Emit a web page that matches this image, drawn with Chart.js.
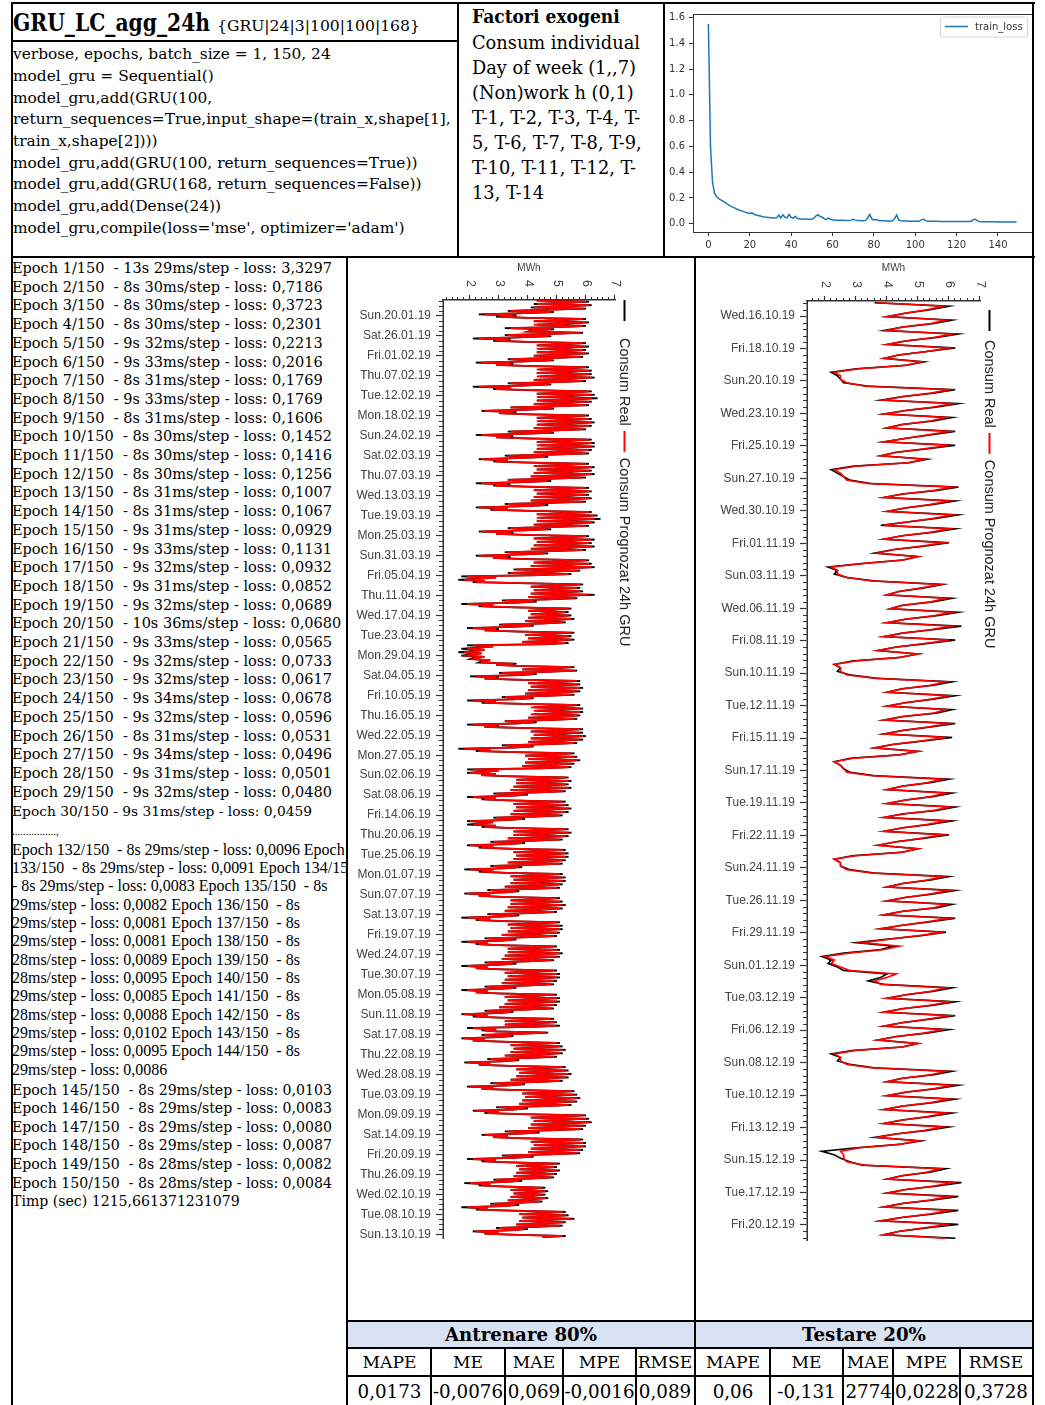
<!DOCTYPE html>
<html lang="ro">
<head>
<meta charset="utf-8">
<title>GRU_LC_agg_24h</title>
<script src="https://cdn.jsdelivr.net/npm/chart.js@4.4.1/dist/chart.umd.min.js"></script>
<style>
  html, body { margin: 0; padding: 0; background: #fff; }
  #page { position: relative; width: 1045px; height: 1405px; overflow: hidden; background: #fff; }
  .rule { position: absolute; background: #000; z-index: 5; }
  .blk { position: absolute; color: #000; font-family: "DejaVu Serif", serif; z-index: 2; white-space: normal; }
  .blk > div, .one { white-space: pre; }
  .one { position: absolute; color: #000; font-family: "DejaVu Serif", serif; z-index: 2; }
  .b { font-weight: bold; }
  .times { font-family: "Liberation Serif", "Times New Roman", serif; }
  .cell { position: absolute; display: flex; align-items: center; justify-content: center; overflow: hidden; white-space: pre; font-family: "DejaVu Serif", serif; color: #000; z-index: 2; }
  .rot { position: absolute; transform-origin: 0 0; z-index: 1; }
  #epochs { position: absolute; left: 12px; top: 258px; width: 334px; height: 1147px; overflow: hidden; z-index: 2; }
</style>
</head>
<body>
<div id="page">

  <!-- header: model name and code -->
  <div class="one b" style="left:13px;top:9px;line-height:30px;transform-origin:0 22px;transform:scaleY(1.18);" data-w="197">GRU_LC_agg_24h</div>
  <div class="one" style="left:217px;top:10.5px;line-height:30px;" data-w="203">{GRU|24|3|100|100|168}</div>

  <div class="blk" style="left:13px;top:44.2px;line-height:21.67px;" data-w="438" data-ref="3">
    <div>verbose, epochs, batch_size = 1, 150, 24</div>
    <div>model_gru = Sequential()</div>
    <div>model_gru,add(GRU(100,</div>
    <div>return_sequences=True,input_shape=(train_x,shape[1],</div>
    <div>train_x,shape[2])))</div>
    <div>model_gru,add(GRU(100, return_sequences=True))</div>
    <div>model_gru,add(GRU(168, return_sequences=False))</div>
    <div>model_gru,add(Dense(24))</div>
    <div>model_gru,compile(loss='mse', optimizer='adam')</div>
  </div>

  <div class="one b" style="left:472px;top:4.5px;line-height:25.1px;transform-origin:0 18px;transform:scaleY(1.12);" data-w="148">Factori exogeni</div>
  <div class="blk" style="left:472px;top:29.6px;line-height:25.1px;" data-w="168" data-ref="0">
    <div>Consum individual</div>
    <div>Day of week (1,,7)</div>
    <div>(Non)work h (0,1)</div>
    <div>T-1, T-2, T-3, T-4, T-</div>
    <div>5, T-6, T-7, T-8, T-9,</div>
    <div>T-10, T-11, T-12, T-</div>
    <div>13, T-14</div>
  </div>

  <div style="position:absolute;left:665px;top:4px;width:367px;height:252px;z-index:1;">
    <canvas id="lossChart" width="367" height="252"></canvas>
  </div>

  <!-- training log -->
  <div id="epochs">
    <div class="blk" style="left:0;top:1px;line-height:18.7px;" data-w="320" data-ref="0">
      <div>Epoch 1/150  - 13s 29ms/step - loss: 3,3297</div>
      <div>Epoch 2/150  - 8s 30ms/step - loss: 0,7186</div>
      <div>Epoch 3/150  - 8s 30ms/step - loss: 0,3723</div>
      <div>Epoch 4/150  - 8s 30ms/step - loss: 0,2301</div>
      <div>Epoch 5/150  - 9s 32ms/step - loss: 0,2213</div>
      <div>Epoch 6/150  - 9s 33ms/step - loss: 0,2016</div>
      <div>Epoch 7/150  - 8s 31ms/step - loss: 0,1769</div>
      <div>Epoch 8/150  - 9s 33ms/step - loss: 0,1769</div>
      <div>Epoch 9/150  - 8s 31ms/step - loss: 0,1606</div>
      <div>Epoch 10/150  - 8s 30ms/step - loss: 0,1452</div>
      <div>Epoch 11/150  - 8s 30ms/step - loss: 0,1416</div>
      <div>Epoch 12/150  - 8s 30ms/step - loss: 0,1256</div>
      <div>Epoch 13/150  - 8s 31ms/step - loss: 0,1007</div>
      <div>Epoch 14/150  - 8s 31ms/step - loss: 0,1067</div>
      <div>Epoch 15/150  - 9s 31ms/step - loss: 0,0929</div>
      <div>Epoch 16/150  - 9s 33ms/step - loss: 0,1131</div>
      <div>Epoch 17/150  - 9s 32ms/step - loss: 0,0932</div>
      <div>Epoch 18/150  - 9s 31ms/step - loss: 0,0852</div>
      <div>Epoch 19/150  - 9s 32ms/step - loss: 0,0689</div>
      <div>Epoch 20/150  - 10s 36ms/step - loss: 0,0680</div>
      <div>Epoch 21/150  - 9s 33ms/step - loss: 0,0565</div>
      <div>Epoch 22/150  - 9s 32ms/step - loss: 0,0733</div>
      <div>Epoch 23/150  - 9s 32ms/step - loss: 0,0617</div>
      <div>Epoch 24/150  - 9s 34ms/step - loss: 0,0678</div>
      <div>Epoch 25/150  - 9s 32ms/step - loss: 0,0596</div>
      <div>Epoch 26/150  - 8s 31ms/step - loss: 0,0531</div>
      <div>Epoch 27/150  - 9s 34ms/step - loss: 0,0496</div>
      <div>Epoch 28/150  - 9s 31ms/step - loss: 0,0501</div>
      <div>Epoch 29/150  - 9s 32ms/step - loss: 0,0480</div>
    </div>
    <div class="one" style="left:0;top:544px;line-height:18.7px;" data-w="300">Epoch 30/150 - 9s 31ms/step - loss: 0,0459</div>
    <div class="one times" style="left:0;top:566px;line-height:14px;font-size:11px;">................,</div>
    <div class="blk times" style="left:0;top:582.8px;line-height:18.33px;" data-w="333" data-ref="0">
      <div>Epoch 132/150  - 8s 29ms/step - loss: 0,0096 Epoch</div>
      <div>133/150  - 8s 29ms/step - loss: 0,0091 Epoch 134/150</div>
      <div>- 8s 29ms/step - loss: 0,0083 Epoch 135/150  - 8s</div>
      <div>29ms/step - loss: 0,0082 Epoch 136/150  - 8s</div>
      <div>29ms/step - loss: 0,0081 Epoch 137/150  - 8s</div>
      <div>29ms/step - loss: 0,0081 Epoch 138/150  - 8s</div>
      <div>28ms/step - loss: 0,0089 Epoch 139/150  - 8s</div>
      <div>28ms/step - loss: 0,0095 Epoch 140/150  - 8s</div>
      <div>29ms/step - loss: 0,0085 Epoch 141/150  - 8s</div>
      <div>28ms/step - loss: 0,0088 Epoch 142/150  - 8s</div>
      <div>29ms/step - loss: 0,0102 Epoch 143/150  - 8s</div>
      <div>29ms/step - loss: 0,0095 Epoch 144/150  - 8s</div>
      <div>29ms/step - loss: 0,0086</div>
    </div>
    <div class="blk" style="left:0;top:822.7px;line-height:18.6px;" data-w="320" data-ref="0">
      <div>Epoch 145/150  - 8s 29ms/step - loss: 0,0103</div>
      <div>Epoch 146/150  - 8s 29ms/step - loss: 0,0083</div>
      <div>Epoch 147/150  - 8s 29ms/step - loss: 0,0080</div>
      <div>Epoch 148/150  - 8s 29ms/step - loss: 0,0087</div>
      <div>Epoch 149/150  - 8s 28ms/step - loss: 0,0082</div>
      <div>Epoch 150/150  - 8s 28ms/step - loss: 0,0084</div>
      <div>Timp (sec) 1215,661371231079</div>
    </div>
  </div>

  <!-- rotated consumption charts -->
  <div class="rot" style="left:347px;top:257px;width:1063px;height:348px;transform:translate(348px,0) rotate(90deg);">
    <canvas id="trainChart" width="1063" height="348"></canvas>
  </div>
  <div class="rot" style="left:695px;top:257px;width:1063px;height:338px;transform:translate(338px,0) rotate(90deg);">
    <canvas id="testChart" width="1063" height="338"></canvas>
  </div>

  <!-- error metrics -->
  <div style="position:absolute;left:348px;top:1322px;width:685px;height:25px;background:#d9e2f3;z-index:1;"></div>
  <div class="cell b" style="left:348px;top:1321px;width:346px;height:27px;" data-w="152">Antrenare 80%</div>
  <div class="cell b" style="left:696px;top:1321px;width:336px;height:27px;" data-w="124">Testare 20%</div>
  <div id="metrics"></div>

  <!-- table rules -->
  <div class="rule" style="left:11px;top:2px;width:1024px;height:2px;"></div>
  <div class="rule" style="left:11px;top:2px;width:2px;height:1403px;"></div>
  <div class="rule" style="left:1032px;top:2px;width:2px;height:1403px;"></div>
  <div class="rule" style="left:11px;top:39.5px;width:448px;height:2px;"></div>
  <div class="rule" style="left:457px;top:2px;width:2px;height:255px;"></div>
  <div class="rule" style="left:663px;top:2px;width:2px;height:255px;"></div>
  <div class="rule" style="left:11px;top:256px;width:1024px;height:2px;"></div>
  <div class="rule" style="left:346px;top:256px;width:2px;height:1149px;"></div>
  <div class="rule" style="left:694px;top:256px;width:2px;height:1149px;"></div>
  <div class="rule" style="left:346px;top:1320px;width:688px;height:2px;"></div>
  <div class="rule" style="left:346px;top:1347px;width:688px;height:2px;"></div>
  <div class="rule" style="left:346px;top:1375px;width:688px;height:1.5px;"></div>
</div>

<script>
// ---------------- training loss per epoch (history curve) ----------------
const lossEpochs = Array.from({length: 150}, (_, i) => i);
const lossValues = [
  1.55, 0.60, 0.32, 0.235, 0.21, 0.195, 0.185, 0.175, 0.165, 0.155,
  0.145, 0.135, 0.127, 0.12, 0.112, 0.105, 0.10, 0.094, 0.088, 0.084,
  0.08, 0.085, 0.074, 0.068, 0.064, 0.06, 0.056, 0.053, 0.051, 0.049,
  0.047, 0.046, 0.045, 0.046, 0.068, 0.045, 0.07, 0.05, 0.046, 0.072,
  0.05, 0.042, 0.058, 0.04, 0.038, 0.037, 0.036, 0.036, 0.035, 0.035,
  0.036, 0.042, 0.062, 0.07, 0.055, 0.05, 0.04, 0.032, 0.043, 0.034,
  0.03, 0.029, 0.028, 0.028, 0.027, 0.027, 0.026, 0.026, 0.026, 0.028,
  0.034, 0.028, 0.025, 0.025, 0.024, 0.024, 0.026, 0.045, 0.072, 0.038,
  0.03, 0.032, 0.027, 0.024, 0.023, 0.023, 0.022, 0.022, 0.022, 0.022,
  0.04, 0.068, 0.03, 0.024, 0.022, 0.021, 0.021, 0.02, 0.02, 0.02,
  0.02, 0.02, 0.021, 0.03, 0.036, 0.024, 0.02, 0.019, 0.019, 0.019,
  0.019, 0.019, 0.018, 0.018, 0.018, 0.018, 0.018, 0.018, 0.018, 0.017,
  0.017, 0.017, 0.017, 0.017, 0.017, 0.017, 0.017, 0.02, 0.032, 0.035,
  0.022, 0.017, 0.016, 0.016, 0.016, 0.015, 0.015, 0.015, 0.015, 0.015,
  0.014, 0.014, 0.014, 0.014, 0.014, 0.013, 0.013, 0.013, 0.013, 0.013
];
const lossXTicks = [0, 20, 40, 60, 80, 100, 120, 140];
const lossYTicks = [0, 0.2, 0.4, 0.6, 0.8, 1.0, 1.2, 1.4, 1.6];

// ---------------- date tick labels ----------------
const trainTickLabels = [
  'Sun.20.01.19','Sat.26.01.19','Fri.01.02.19','Thu.07.02.19','Tue.12.02.19','Mon.18.02.19',
  'Sun.24.02.19','Sat.02.03.19','Thu.07.03.19','Wed.13.03.19','Tue.19.03.19','Mon.25.03.19',
  'Sun.31.03.19','Fri.05.04.19','Thu.11.04.19','Wed.17.04.19','Tue.23.04.19','Mon.29.04.19',
  'Sat.04.05.19','Fri.10.05.19','Thu.16.05.19','Wed.22.05.19','Mon.27.05.19','Sun.02.06.19',
  'Sat.08.06.19','Fri.14.06.19','Thu.20.06.19','Tue.25.06.19','Mon.01.07.19','Sun.07.07.19',
  'Sat.13.07.19','Fri.19.07.19','Wed.24.07.19','Tue.30.07.19','Mon.05.08.19','Sun.11.08.19',
  'Sat.17.08.19','Thu.22.08.19','Wed.28.08.19','Tue.03.09.19','Mon.09.09.19','Sat.14.09.19',
  'Fri.20.09.19','Thu.26.09.19','Wed.02.10.19','Tue.08.10.19','Sun.13.10.19'
];
const testTickLabels = [
  'Wed.16.10.19','Fri.18.10.19','Sun.20.10.19','Wed.23.10.19','Fri.25.10.19','Sun.27.10.19',
  'Wed.30.10.19','Fri.01.11.19','Sun.03.11.19','Wed.06.11.19','Fri.08.11.19','Sun.10.11.19',
  'Tue.12.11.19','Fri.15.11.19','Sun.17.11.19','Tue.19.11.19','Fri.22.11.19','Sun.24.11.19',
  'Tue.26.11.19','Fri.29.11.19','Sun.01.12.19','Tue.03.12.19','Fri.06.12.19','Sun.08.12.19',
  'Tue.10.12.19','Fri.13.12.19','Sun.15.12.19','Tue.17.12.19','Fri.20.12.19'
];
const mwhTicks = [2, 3, 4, 5, 6, 7];

// ---------------- training period, MWh (Wed 16.01 - Mon 14.10.2019) ----------------
// one value per day for the night low (04h), the day high (12h) and the evening (20h);
// rows are Mon..Sun weeks after the first partial week
const trainRealLow = [
  4.3,4.2,4.1,3.3,2.3,
  3.9,4.2,4.3,3.2,4.0,3.2,2.1,  4.0,4.3,4.4,4.3,4.2,3.3,2.2,  4.1,4.4,4.3,4.4,4.2,3.3,2.1,
  4.1,4.3,4.4,4.3,4.2,3.4,2.4,  4.0,4.3,4.4,4.3,4.2,3.3,2.2,  4.0,4.3,4.4,4.3,4.2,3.2,2.3,
  4.0,4.2,4.3,4.2,4.1,3.3,2.2,  4.0,4.2,4.3,4.2,4.1,3.2,2.2,  4.1,4.3,4.4,4.3,4.2,3.3,2.3,
  4.0,4.2,4.3,4.2,4.1,3.2,2.2,  4.0,4.2,4.1,3.5,3.3,1.7,1.6,  3.9,4.1,4.2,4.1,4.0,3.1,1.7,
  3.5,4.0,4.1,4.0,3.9,3.0,1.9,  3.6,3.9,4.0,3.8,1.9,1.7,1.6,  1.7,2.0,2.3,3.7,3.8,3.0,2.0,
  3.7,4.0,4.1,4.0,3.9,3.1,1.9,  3.9,4.2,4.3,4.2,4.0,3.2,1.9,  3.9,4.1,4.2,4.1,4.0,3.1,1.6,
  3.6,3.9,4.0,3.9,3.8,1.9,1.9,  3.4,3.6,3.6,3.5,3.4,2.8,1.9,  3.4,3.5,3.6,3.5,3.4,2.8,1.9,
  1.9,3.4,3.5,3.5,3.3,2.7,1.9,  3.3,3.5,3.6,3.5,3.3,2.7,1.8,  3.2,3.4,3.5,3.4,3.2,2.6,1.8,
  3.2,3.4,3.4,3.3,3.2,2.6,1.7,  3.1,3.3,3.4,3.3,3.1,2.5,1.7,  3.1,3.3,3.3,3.2,3.1,2.5,1.7,
  3.1,3.2,3.3,3.2,3.1,2.5,1.7,  3.0,3.2,3.3,3.2,3.0,2.5,1.7,  3.0,3.2,3.2,1.9,2.9,2.4,1.7,
  3.2,3.4,3.5,3.4,3.2,2.6,1.8,  3.4,3.6,3.7,3.6,3.4,2.7,1.9,  3.6,3.8,3.9,3.8,3.7,2.9,2.1,
  3.8,4.1,4.2,4.1,4.0,3.2,2.4,  3.8,4.1,4.2,4.1,4.0,3.1,1.9,  3.4,3.6,3.7,3.6,3.5,2.8,1.8,
  3.2,3.4,3.5,3.4,3.3,2.7,1.7,  3.5,3.7,3.8,3.7,3.6,2.9,2.1,
  3.6
];
const trainRealHigh = [
  6.1,6.2,6.0,4.9,3.6,
  6.0,6.1,6.0,4.9,5.9,4.8,3.4,  6.0,6.1,6.0,6.1,5.9,4.9,3.5,  6.1,6.2,6.2,6.3,6.0,4.8,3.4,
  6.2,6.3,6.4,6.2,6.1,4.9,3.6,  6.1,6.2,6.3,6.2,6.0,4.9,3.5,  6.2,6.3,6.3,6.2,6.1,4.7,3.3,
  6.1,6.3,6.2,6.3,6.0,4.8,3.4,  6.1,6.2,6.1,6.2,6.0,4.7,3.3,  6.2,6.4,6.5,6.3,6.1,4.8,3.5,
  6.1,6.3,6.2,6.3,6.0,4.7,3.4,  6.1,6.2,6.3,5.8,5.5,2.9,2.5,  5.9,5.8,5.9,6.3,5.7,4.3,2.8,
  5.5,5.4,5.5,5.6,5.3,4.2,3.0,  5.6,5.5,5.6,5.4,2.8,2.5,2.4,  2.5,2.7,3.6,5.6,5.7,4.3,3.0,
  5.8,5.8,5.9,5.8,5.6,4.2,2.9,  5.8,5.9,5.9,5.8,5.7,4.3,3.0,  5.9,5.9,6.0,5.9,5.7,4.2,2.7,
  5.6,5.7,5.8,5.6,5.5,3.0,2.9,  5.4,5.5,5.4,5.5,5.3,4.0,2.9,  5.3,5.4,5.5,5.4,5.2,3.9,2.8,
  2.9,5.4,5.5,5.4,5.2,3.9,2.8,  5.3,5.4,5.4,5.3,5.2,3.8,2.8,  5.2,5.3,5.3,5.2,5.1,3.7,2.7,
  5.1,5.2,5.3,5.2,5.0,3.7,2.7,  5.1,5.2,5.2,5.1,5.0,3.6,2.6,  5.0,5.1,5.2,5.1,4.9,3.6,2.6,
  5.0,5.1,5.1,5.0,4.9,3.6,2.6,  5.0,5.1,5.1,5.0,4.9,3.5,2.6,  4.9,5.0,5.1,2.9,4.7,3.5,2.5,
  5.1,5.2,5.3,5.2,5.0,3.7,2.7,  5.3,5.4,5.5,5.4,5.2,3.9,2.8,  5.6,5.7,5.8,5.7,5.5,4.0,3.0,
  6.0,6.1,6.2,6.0,5.9,4.4,3.3,  5.9,6.0,6.0,5.9,5.8,4.2,2.9,  5.1,5.0,5.1,5.0,4.9,3.8,2.7,
  4.6,4.7,4.6,4.7,4.5,3.7,2.6,  5.3,5.4,5.6,5.3,5.2,4.0,3.0,
  5.3
];
const trainRealEve = [
  5.2,5.3,4.7,3.8,2.9,
  5.2,5.3,5.2,4.1,4.8,3.7,2.8,  5.2,5.3,5.3,5.2,4.8,3.8,2.9,  5.3,5.4,5.3,5.4,4.9,3.8,2.8,
  5.3,5.4,5.5,5.3,4.9,3.9,3.0,  5.2,5.4,5.4,5.3,4.9,3.8,2.9,  5.3,5.4,5.4,5.3,4.9,3.7,2.8,
  5.2,5.4,5.3,5.4,4.8,3.8,2.8,  5.2,5.3,5.3,5.3,4.8,3.7,2.7,  5.3,5.5,5.5,5.4,4.9,3.8,2.9,
  5.2,5.4,5.3,5.4,4.8,3.7,2.8,  5.2,5.3,5.3,4.7,4.2,2.3,2.1,  5.0,5.0,5.1,5.2,4.7,3.5,2.3,
  4.7,4.8,4.8,4.9,4.5,3.4,2.5,  4.8,4.8,4.9,4.6,2.3,2.1,2.0,  2.1,2.4,2.9,4.8,4.7,3.6,2.5,
  4.9,5.0,5.1,5.0,4.6,3.5,2.4,  5.0,5.1,5.1,5.0,4.7,3.6,2.5,  5.0,5.1,5.2,5.1,4.7,3.5,2.2,
  4.8,4.9,5.0,4.8,4.5,2.5,2.4,  4.5,4.6,4.6,4.6,4.3,3.4,2.4,  4.5,4.6,4.6,4.5,4.3,3.3,2.4,
  2.4,4.5,4.6,4.5,4.2,3.3,2.3,  4.4,4.5,4.6,4.5,4.2,3.2,2.3,  4.3,4.4,4.5,4.4,4.1,3.2,2.3,
  4.3,4.4,4.4,4.3,4.1,3.1,2.2,  4.2,4.3,4.4,4.3,4.0,3.1,2.2,  4.2,4.3,4.3,4.2,4.0,3.0,2.2,
  4.1,4.2,4.3,4.2,4.0,3.0,2.2,  4.1,4.2,4.2,4.1,3.9,3.0,2.1,  4.0,4.1,4.2,2.4,3.8,2.9,2.1,
  4.2,4.3,4.4,4.3,4.1,3.1,2.3,  4.4,4.5,4.6,4.5,4.3,3.3,2.4,  4.7,4.8,4.9,4.8,4.5,3.5,2.5,
  5.0,5.1,5.2,5.1,4.8,3.7,2.8,  5.0,5.1,5.1,5.0,4.7,3.5,2.4,  4.3,4.3,4.4,4.3,4.1,3.2,2.3,
  4.0,4.1,4.1,4.1,3.8,3.1,2.2,  4.5,4.6,4.7,4.5,4.3,3.4,2.5,
  4.5
];
const trainPredLow = [
  4.3,4.3,4.2,3.4,2.5,
  4.0,4.2,4.2,3.4,4.0,3.3,2.3,  4.1,4.3,4.3,4.3,4.2,3.4,2.4,  4.1,4.3,4.3,4.3,4.2,3.4,2.3,
  4.2,4.3,4.3,4.3,4.2,3.4,2.5,  4.1,4.3,4.3,4.3,4.2,3.4,2.4,  4.1,4.3,4.3,4.3,4.2,3.3,2.4,
  4.1,4.2,4.3,4.2,4.1,3.3,2.4,  4.1,4.2,4.3,4.2,4.1,3.3,2.3,  4.1,4.3,4.3,4.3,4.2,3.4,2.4,
  4.1,4.2,4.3,4.2,4.1,3.3,2.3,  4.0,4.2,4.1,3.6,3.4,1.9,1.8,  4.0,4.1,4.2,4.1,4.0,3.2,1.9,
  3.7,4.0,4.1,4.0,3.9,3.1,2.1,  3.7,3.9,4.0,3.8,2.1,1.9,1.8,  1.9,2.1,2.4,3.7,3.8,3.1,2.2,
  3.8,4.0,4.1,4.0,3.9,3.2,2.1,  3.9,4.1,4.2,4.1,4.0,3.2,2.1,  3.9,4.1,4.2,4.1,4.0,3.2,1.8,
  3.7,3.9,4.0,3.9,3.8,2.1,2.0,  3.5,3.6,3.6,3.5,3.4,2.9,2.1,  3.4,3.5,3.6,3.5,3.4,2.9,2.0,
  2.1,3.4,3.5,3.5,3.3,2.8,2.0,  3.4,3.5,3.6,3.5,3.3,2.8,2.0,  3.3,3.4,3.5,3.4,3.2,2.7,1.9,
  3.2,3.4,3.4,3.3,3.2,2.7,1.9,  3.2,3.3,3.4,3.3,3.1,2.6,1.9,  3.1,3.3,3.3,3.2,3.1,2.6,1.9,
  3.1,3.2,3.3,3.2,3.1,2.6,1.9,  3.1,3.2,3.3,3.2,3.0,2.6,1.8,  3.0,3.2,3.2,2.1,2.9,2.5,1.8,
  3.2,3.4,3.5,3.4,3.2,2.7,1.9,  3.4,3.6,3.7,3.6,3.4,2.8,2.0,  3.6,3.8,3.9,3.8,3.7,3.0,2.2,
  3.9,4.1,4.2,4.1,4.0,3.3,2.5,  3.9,4.1,4.2,4.1,4.0,3.2,2.1,  3.5,3.6,3.7,3.6,3.5,2.9,2.0,
  3.3,3.4,3.5,3.4,3.3,2.8,1.9,  3.5,3.7,3.8,3.7,3.6,3.0,2.2,
  3.6
];
const trainPredHigh = [
  6.0,6.1,5.9,4.8,3.5,
  5.9,6.0,5.9,4.8,5.8,4.7,3.3,  5.9,6.0,5.9,6.0,5.8,4.8,3.4,  6.0,6.1,6.1,6.2,5.9,4.7,3.4,
  6.1,6.2,6.2,6.1,6.0,4.8,3.5,  6.0,6.1,6.2,6.1,5.9,4.8,3.4,  6.1,6.2,6.2,6.1,6.0,4.6,3.3,
  6.0,6.2,6.1,6.2,5.9,4.7,3.3,  6.0,6.1,6.0,6.1,5.9,4.6,3.3,  6.1,6.3,6.3,6.2,6.0,4.7,3.4,
  6.0,6.2,6.1,6.2,5.9,4.6,3.3,  6.0,6.1,6.2,5.7,5.4,2.9,2.5,  5.8,5.7,5.8,6.1,5.6,4.2,2.8,
  5.4,5.3,5.4,5.5,5.2,4.1,2.9,  5.5,5.4,5.5,5.3,2.8,2.5,2.4,  2.5,2.7,3.5,5.5,5.6,4.2,2.9,
  5.7,5.7,5.8,5.7,5.5,4.1,2.9,  5.7,5.8,5.8,5.7,5.6,4.2,2.9,  5.8,5.8,5.9,5.8,5.6,4.1,2.7,
  5.5,5.6,5.7,5.5,5.4,3.0,2.9,  5.3,5.4,5.3,5.4,5.2,3.9,2.9,  5.2,5.3,5.4,5.3,5.1,3.8,2.8,
  2.9,5.3,5.4,5.3,5.1,3.8,2.8,  5.2,5.3,5.3,5.2,5.1,3.7,2.8,  5.1,5.2,5.2,5.1,5.0,3.6,2.7,
  5.0,5.1,5.2,5.1,4.9,3.6,2.7,  5.0,5.1,5.1,5.0,4.9,3.5,2.6,  4.9,5.0,5.1,5.0,4.8,3.5,2.6,
  4.9,5.0,5.0,4.9,4.8,3.5,2.6,  4.9,5.0,5.0,4.9,4.8,3.4,2.6,  4.8,4.9,5.0,2.9,4.6,3.4,2.5,
  5.0,5.1,5.2,5.1,4.9,3.6,2.7,  5.2,5.3,5.4,5.3,5.1,3.8,2.8,  5.5,5.6,5.7,5.6,5.4,3.9,3.0,
  5.9,6.0,6.1,5.9,5.8,4.3,3.3,  5.8,5.9,5.9,5.8,5.7,4.1,2.9,  5.0,4.9,5.0,4.9,4.8,3.7,2.7,
  4.5,4.6,4.5,4.6,4.4,3.6,2.6,  5.2,5.3,5.5,5.2,5.1,3.9,3.0,
  5.2
];
const trainPredEve = [
  5.2,5.2,4.7,3.8,3.0,
  5.1,5.2,5.2,4.2,4.8,3.7,2.9,  5.2,5.2,5.2,5.2,4.8,3.8,2.9,  5.2,5.3,5.3,5.3,4.9,3.8,2.9,
  5.3,5.3,5.4,5.3,4.9,3.9,3.0,  5.2,5.3,5.3,5.3,4.9,3.8,2.9,  5.2,5.3,5.3,5.3,4.9,3.7,2.9,
  5.2,5.3,5.3,5.3,4.8,3.8,2.9,  5.2,5.3,5.2,5.3,4.8,3.7,2.8,  5.3,5.4,5.4,5.3,4.9,3.8,2.9,
  5.2,5.3,5.3,5.3,4.8,3.7,2.8,  5.2,5.2,5.3,4.7,4.3,2.4,2.2,  5.0,5.0,5.0,5.1,4.7,3.5,2.4,
  4.7,4.8,4.8,4.8,4.5,3.4,2.5,  4.8,4.8,4.8,4.6,2.4,2.2,2.1,  2.2,2.4,2.9,4.7,4.7,3.6,2.5,
  4.9,5.0,5.0,5.0,4.6,3.5,2.5,  5.0,5.0,5.1,5.0,4.7,3.6,2.5,  5.0,5.0,5.1,5.0,4.7,3.5,2.3,
  4.8,4.9,4.9,4.8,4.5,2.6,2.4,  4.5,4.6,4.6,4.5,4.3,3.4,2.5,  4.5,4.5,4.6,4.5,4.3,3.3,2.4,
  2.5,4.5,4.5,4.5,4.2,3.3,2.4,  4.4,4.5,4.5,4.5,4.2,3.2,2.4,  4.3,4.4,4.4,4.4,4.1,3.2,2.3,
  4.3,4.4,4.4,4.3,4.1,3.1,2.3,  4.2,4.3,4.3,4.3,4.0,3.1,2.3,  4.2,4.3,4.3,4.2,4.0,3.0,2.2,
  4.1,4.2,4.2,4.2,4.0,3.0,2.2,  4.1,4.2,4.2,4.1,3.9,3.0,2.2,  4.0,4.1,4.1,2.5,3.8,2.9,2.1,
  4.2,4.3,4.3,4.3,4.1,3.1,2.3,  4.4,4.5,4.5,4.5,4.3,3.3,2.4,  4.7,4.7,4.8,4.7,4.5,3.5,2.6,
  5.0,5.0,5.1,5.0,4.8,3.7,2.8,  5.0,5.0,5.0,5.0,4.7,3.5,2.5,  4.3,4.3,4.3,4.3,4.1,3.2,2.4,
  4.0,4.1,4.1,4.0,3.8,3.1,2.3,  4.5,4.6,4.6,4.5,4.3,3.4,2.5,
  4.5
];

// ---------------- test period: 03h, 09h, 15h, 21h per day, MWh (15.10 - 21.12.2019) ----------------
const testReal = [
  3.6,6.0,5.4,4.6, 4.0,6.1,5.5,4.5, 3.9,6.3,5.6,4.6, 4.0,6.2,5.3,4.4, 3.9,5.2,4.6,3.0, 2.2,2.4,2.5,2.6,
  3.4,6.2,5.5,4.5, 3.8,6.3,5.6,4.6, 3.9,6.1,5.5,4.5, 4.0,6.2,5.4,4.6, 3.9,6.2,5.3,4.3, 3.8,5.3,4.7,2.9, 2.2,2.4,2.6,2.8,
  3.5,6.3,5.6,4.5, 3.9,6.2,5.5,4.6, 4.0,6.3,5.6,4.7, 3.8,6.2,5.5,4.5, 3.9,6.0,5.2,4.2, 3.6,5.0,4.5,3.2, 2.1,2.4,2.3,2.7,
  3.6,5.8,5.2,4.4, 4.0,6.1,5.5,4.5, 4.1,6.3,5.6,4.6, 4.0,6.4,5.5,4.5, 3.9,6.2,5.3,4.3, 3.7,5.0,4.4,2.9, 2.3,2.5,2.4,2.8,
  3.7,6.1,5.5,4.5, 4.0,6.2,5.5,4.6, 4.0,6.1,5.6,4.5, 3.9,6.2,5.4,4.5, 3.9,6.1,5.2,4.2, 3.6,5.0,4.4,2.8, 2.3,2.5,2.6,2.8,
  3.6,6.0,5.4,4.5, 4.0,6.1,5.5,4.6, 4.0,6.2,5.6,4.5, 3.9,6.1,5.4,4.5, 3.9,6.0,5.2,4.3, 3.7,5.0,4.5,2.9, 2.3,2.5,2.5,2.8,
  3.6,6.0,5.4,4.5, 4.0,6.2,5.5,4.6, 4.0,6.1,5.6,4.5, 3.9,6.2,5.4,4.5, 3.8,5.9,5.1,4.0, 3.0,4.2,3.8,2.6, 1.9,2.2,2.1,2.4,
  2.6,4.0,3.8,3.4, 3.9,6.1,5.5,4.6, 4.0,6.2,5.5,4.5, 3.9,6.2,5.4,4.5, 3.9,6.0,5.3,4.3, 3.7,5.0,4.5,2.9, 2.2,2.5,2.4,2.8,
  3.6,6.1,5.5,4.5, 4.0,6.3,5.6,4.6, 4.0,6.2,5.5,4.5, 3.9,6.1,5.4,4.5, 3.9,6.0,5.3,4.3, 3.6,5.1,4.4,3.0, 1.9,2.3,2.5,2.8,
  3.2,5.9,5.4,4.5, 4.0,6.4,5.6,4.6, 4.0,6.3,5.5,4.5, 3.9,6.3,5.5,4.5, 3.8,6.3,5.3,4.4, 3.9,6.2
];
const testPred = [
  3.7,5.8,5.3,4.6, 4.0,5.9,5.4,4.5, 4.0,6.1,5.5,4.6, 4.0,6.0,5.3,4.4, 3.9,5.1,4.6,3.1, 2.3,2.5,2.5,2.7,
  3.3,6.0,5.4,4.5, 3.9,6.1,5.5,4.6, 3.9,5.9,5.4,4.5, 4.0,6.0,5.3,4.6, 3.9,6.0,5.2,4.3, 3.8,5.2,4.7,3.0, 2.3,2.5,2.6,2.7,
  3.4,6.1,5.5,4.5, 3.9,6.0,5.4,4.6, 4.0,6.1,5.5,4.7, 3.9,6.0,5.4,4.5, 3.9,5.8,5.1,4.2, 3.7,5.0,4.5,3.2, 2.2,2.4,2.4,2.7,
  3.5,5.7,5.1,4.4, 4.0,5.9,5.4,4.5, 4.1,6.1,5.5,4.6, 4.0,6.1,5.4,4.5, 3.9,6.0,5.2,4.3, 3.7,5.0,4.4,3.0, 2.3,2.5,2.5,2.7,
  3.6,5.9,5.4,4.5, 4.0,6.0,5.4,4.6, 4.0,5.9,5.5,4.5, 3.9,6.0,5.3,4.5, 3.9,5.9,5.1,4.2, 3.6,5.0,4.4,2.9, 2.3,2.5,2.6,2.7,
  3.5,5.8,5.3,4.5, 4.0,5.9,5.4,4.6, 4.0,6.0,5.5,4.5, 3.9,5.9,5.3,4.5, 3.9,5.8,5.1,4.3, 3.7,5.0,4.5,3.0, 2.3,2.5,2.5,2.7,
  3.5,5.8,5.3,4.5, 4.0,6.0,5.4,4.6, 4.0,5.9,5.5,4.5, 3.9,6.0,5.3,4.5, 3.8,5.8,5.0,4.1, 3.2,4.4,3.9,2.8, 2.0,2.3,2.2,2.5,
  2.8,4.3,4.0,3.6, 3.8,5.9,5.4,4.6, 4.0,6.0,5.4,4.5, 3.9,6.0,5.3,4.5, 3.9,5.8,5.2,4.3, 3.7,5.0,4.5,3.0, 2.3,2.5,2.5,2.7,
  3.5,5.9,5.4,4.5, 4.0,6.1,5.5,4.6, 4.0,6.0,5.4,4.5, 3.9,5.9,5.3,4.5, 3.9,5.8,5.2,4.3, 3.7,5.0,4.4,3.1, 2.5,2.6,2.6,2.7,
  3.3,5.7,5.3,4.5, 4.0,6.1,5.5,4.6, 4.0,6.0,5.4,4.5, 3.9,6.0,5.4,4.5, 3.8,6.0,5.2,4.4, 3.9,5.9
];

// ---------------- error metrics ----------------
const metricNames = ['MAPE', 'ME', 'MAE', 'MPE', 'RMSE'];
const trainMetrics = ['0,0173', '-0,0076', '0,069', '-0,0016', '0,089'];
const testMetrics = ['0,06', '-0,131', '0,2774', '-0,0228', '0,3728'];

// ======================================================================
// text sizing: scale each block so its reference line spans the given width
function fitText() {
  const ctx = document.createElement('canvas').getContext('2d');
  document.querySelectorAll('[data-w]').forEach(el => {
    const cs = getComputedStyle(el);
    const ref = el.dataset.fitRef || (el.dataset.ref !== undefined ? el.children[+el.dataset.ref].textContent : el.textContent);
    ctx.font = `${cs.fontWeight} 100px ${cs.fontFamily}`;
    const w = ctx.measureText(ref).width;
    el.style.fontSize = (100 * parseFloat(el.dataset.w) / w).toFixed(2) + 'px';
  });
}

// metric table cells and rules; all labels share one size, all values another
function buildMetrics() {
  const host = document.getElementById('metrics');
  const trainCols = [348, 431, 505, 563, 636, 694];
  const testCols = [696, 770, 843, 893, 960, 1032];
  const addCell = (x0, x1, top, h, txt, w, fitRef) => {
    const d = document.createElement('div');
    d.className = 'cell';
    d.style.cssText = `left:${x0}px;top:${top}px;width:${x1 - x0}px;height:${h}px;`;
    d.textContent = txt;
    d.dataset.w = w;
    d.dataset.fitRef = fitRef;
    host.appendChild(d);
    return d;
  };
  const addRule = (x) => {
    const r = document.createElement('div');
    r.className = 'rule';
    r.style.cssText = `left:${x - 1}px;top:1347px;width:2px;height:58px;`;
    host.appendChild(r);
  };
  const valueCells = [];
  [[trainCols, trainMetrics], [testCols, testMetrics]].forEach(([cols, vals]) => {
    metricNames.forEach((name, i) => {
      addCell(cols[i] + 1, cols[i + 1] - 1, 1349, 26, name, 54, 'MAPE');
      valueCells.push(addCell(cols[i] + 1, cols[i + 1] - 1, 1377, 28, vals[i], 64, '0,0173'));
      if (i > 0) addRule(cols[i]);
    });
  });
  return valueCells;
}

const valueCells = buildMetrics();
fitText();
// values wider than their column keep their last digits visible
valueCells.forEach(c => { if (c.scrollWidth > c.clientWidth + 1) c.style.justifyContent = 'flex-end'; });

// ======================================================================
// Chart.js helpers
const sansFont = '"Liberation Sans", Arial, sans-serif';

const minorTicks = {
  id: 'minorTicks',
  afterDraw(chart, args, opts) {
    const {ctx} = chart;
    const xs = chart.scales.x, ys = chart.scales.y;
    ctx.save();
    ctx.strokeStyle = opts.color;
    ctx.lineWidth = 1;
    ctx.beginPath();
    (opts.xValues || []).forEach(v => {
      const px = Math.round(xs.getPixelForValue(v)) + 0.5;
      ctx.moveTo(px, xs.top);
      ctx.lineTo(px, xs.top + opts.xLen);
    });
    (opts.yValues || []).forEach(v => {
      const py = Math.round(ys.getPixelForValue(v)) + 0.5;
      ctx.moveTo(ys.right - opts.yLen, py);
      ctx.lineTo(ys.right, py);
    });
    ctx.stroke();
    ctx.restore();
  }
};

const lineLegend = {
  id: 'lineLegend',
  afterDraw(chart, args, opts) {
    if (!opts.items) return;
    const {ctx, chartArea} = chart;
    ctx.save();
    ctx.font = opts.font;
    ctx.textBaseline = 'middle';
    const y = chartArea.top - opts.gap;
    let x = chartArea.left + opts.offset;
    opts.items.forEach(it => {
      const ds = chart.data.datasets[it.index];
      x += it.before;
      ctx.strokeStyle = ds.borderColor;
      ctx.lineWidth = 2;
      ctx.beginPath();
      ctx.moveTo(x, y);
      ctx.lineTo(x + opts.lineLen, y);
      ctx.stroke();
      x += opts.lineLen + it.textGap;
      ctx.fillStyle = opts.color;
      ctx.fillText(ds.label, x, y);
      x += ctx.measureText(ds.label).width;
    });
    ctx.restore();
  }
};

function minorValues(start, step, parts, min, max) {
  const out = [];
  for (let v = start - step; v <= max; v += step) {
    for (let k = 1; k < parts; k++) {
      const m = v + k * step / parts;
      if (m >= min && m <= max) out.push(m);
    }
  }
  return out;
}

function mwhMinor(min, max) {
  const out = [];
  for (let i = Math.ceil(min * 5); i <= Math.floor(max * 5); i++) {
    if (i % 5 !== 0) out.push(i / 5);
  }
  return out;
}

function consumptionChart(canvasId, cfg) {
  const tickHours = cfg.tickLabels.map((_, k) => cfg.tick0 + k * cfg.tickStep);
  return new Chart(document.getElementById(canvasId), {
    type: 'line',
    data: {
      datasets: [
        {label: 'Consum Real', data: cfg.real, borderColor: '#000000', borderWidth: cfg.lineW,
         pointRadius: 0, tension: 0, order: 2},
        {label: 'Consum Prognozat 24h GRU', data: cfg.pred, borderColor: '#ff0000', borderWidth: cfg.lineW,
         pointRadius: 0, tension: 0, order: 1}
      ]
    },
    options: {
      responsive: false,
      animation: false,
      events: [],
      layout: {padding: {top: cfg.top, right: cfg.right, left: 0, bottom: 0}},
      plugins: {
        legend: {display: false},
        tooltip: {enabled: false},
        minorTicks: {color: '#333', xLen: 4, yLen: 3,
          xValues: minorValues(cfg.tick0, cfg.tickStep, cfg.minorParts, 0, cfg.xMax),
          yValues: mwhMinor(cfg.yMin, 7)},
        lineLegend: {font: '14.5px ' + sansFont, color: '#222', gap: 9.5, lineLen: 21,
          offset: cfg.legendOffset,
          items: [{index: 0, before: 0, textGap: cfg.legendGap1}, {index: 1, before: 5, textGap: 6}]}
      },
      scales: {
        x: {
          type: 'linear', min: 0, max: cfg.xMax,
          afterFit: s => { s.height = cfg.xAxisH; },
          afterBuildTicks: s => { s.ticks = tickHours.map(v => ({value: v})); },
          border: {display: true, color: '#333', width: 1.5},
          grid: {drawOnChartArea: false, drawTicks: true, tickLength: 7, color: '#333', tickWidth: 1.2},
          ticks: {autoSkip: false, minRotation: 90, maxRotation: 90, padding: 5, color: '#444',
            font: {family: sansFont, size: 12},
            callback: (v, i) => cfg.tickLabels[i]}
        },
        y: {
          type: 'linear', min: cfg.yMin, max: 7,
          afterFit: s => { s.width = cfg.yAxisW; },
          afterBuildTicks: s => { s.ticks = mwhTicks.map(v => ({value: v})); },
          border: {display: true, color: '#333', width: 1.5},
          grid: {drawOnChartArea: false, drawTicks: true, tickLength: 5, color: '#333', tickWidth: 1.2},
          ticks: {padding: 8, color: '#444', font: {family: sansFont, size: 12.5},
            callback: v => String(v)},
          title: {display: true, text: 'MWh', color: '#444', font: {family: sansFont, size: 10},
            padding: {top: 5, bottom: 0}}
        }
      }
    },
    plugins: [minorTicks, lineLegend]
  });
}

// training series: night low, day high and evening value of every day
const toDaily = (lows, highs, eves) => lows.flatMap((lo, d) => [
  {x: d * 24 + 4, y: lo}, {x: d * 24 + 12, y: highs[d]}, {x: d * 24 + 20, y: eves[d]}
]);
// test series: four readings a day
const toQuarter = vals => vals.map((v, i) => ({x: Math.floor(i / 4) * 24 + 3 + (i % 4) * 6, y: v}));

consumptionChart('trainChart', {
  real: toDaily(trainRealLow, trainRealHigh, trainRealEve),
  pred: toDaily(trainPredLow, trainPredHigh, trainPredEve),
  tickLabels: trainTickLabels, tick0: 111, tickStep: 139, minorParts: 4,
  xMax: 6530, yMin: 1.07, top: 80, right: 82, xAxisH: 96, yAxisW: 43,
  legendOffset: 0, legendGap1: 17, lineW: 1.8
});

consumptionChart('testChart', {
  real: toQuarter(testReal),
  pred: toQuarter(testPred),
  tickLabels: testTickLabels, tick0: 26, tickStep: 56, minorParts: 5,
  xMax: 1620, yMin: 1.42, top: 53, right: 80, xAxisH: 112, yAxisW: 44,
  legendOffset: 9, legendGap1: 9, lineW: 1.6
});

// ---------------- loss curve (matplotlib-like frame) ----------------
const frame = {
  id: 'frame',
  afterDraw(chart) {
    const {ctx, chartArea: a} = chart;
    ctx.save();
    ctx.strokeStyle = '#333';
    ctx.lineWidth = 1;
    ctx.strokeRect(Math.round(a.left) + 0.5, Math.round(a.top) + 0.5, Math.round(a.width), Math.round(a.height));
    ctx.restore();
  }
};
const boxLegend = {
  id: 'boxLegend',
  afterDraw(chart) {
    const {ctx, chartArea: a} = chart;
    const ds = chart.data.datasets[0];
    const w = 87, h = 20, x = a.right - 5 - w, y = a.top + 2.5;
    ctx.save();
    ctx.beginPath();
    ctx.roundRect(x + 0.5, y + 0.5, w, h, 2);
    ctx.fillStyle = 'rgba(255,255,255,0.85)';
    ctx.fill();
    ctx.strokeStyle = '#d6d6d6';
    ctx.lineWidth = 1;
    ctx.stroke();
    ctx.strokeStyle = ds.borderColor;
    ctx.lineWidth = 1.5;
    ctx.beginPath();
    ctx.moveTo(x + 5, y + h / 2);
    ctx.lineTo(x + 28, y + h / 2);
    ctx.stroke();
    ctx.fillStyle = '#333';
    ctx.font = '10px "DejaVu Sans", sans-serif';
    ctx.textBaseline = 'middle';
    ctx.fillText(ds.label, x + 35, y + h / 2 + 0.5);
    ctx.restore();
  }
};

new Chart(document.getElementById('lossChart'), {
  type: 'line',
  data: {
    datasets: [{label: 'train_loss', data: lossEpochs.map((e, i) => ({x: e, y: lossValues[i]})),
      borderColor: '#1f77b4', borderWidth: 1.5, pointRadius: 0, tension: 0}]
  },
  options: {
    responsive: false,
    animation: false,
    events: [],
    layout: {padding: {top: 8.5, right: 0, left: 0, bottom: 0}},
    plugins: {legend: {display: false}, tooltip: {enabled: false}},
    scales: {
      x: {
        type: 'linear', min: -7.45, max: 156.45,
        afterFit: s => { s.height = 24; },
        afterBuildTicks: s => { s.ticks = lossXTicks.map(v => ({value: v})); },
        border: {display: true, color: '#333', width: 1},
        grid: {drawOnChartArea: false, tickLength: 4, color: '#333'},
        ticks: {padding: 3, color: '#333', font: {family: '"DejaVu Sans", sans-serif', size: 10}}
      },
      y: {
        type: 'linear', min: -0.064, max: 1.627,
        afterFit: s => { s.width = 28; },
        afterBuildTicks: s => { s.ticks = lossYTicks.map(v => ({value: v})); },
        border: {display: true, color: '#333', width: 1},
        grid: {drawOnChartArea: false, tickLength: 4, color: '#333'},
        ticks: {padding: 4, color: '#333', font: {family: '"DejaVu Sans", sans-serif', size: 10},
          callback: v => v.toFixed(1)}
      }
    }
  },
  plugins: [frame, boxLegend]
});
</script>
</body>
</html>
